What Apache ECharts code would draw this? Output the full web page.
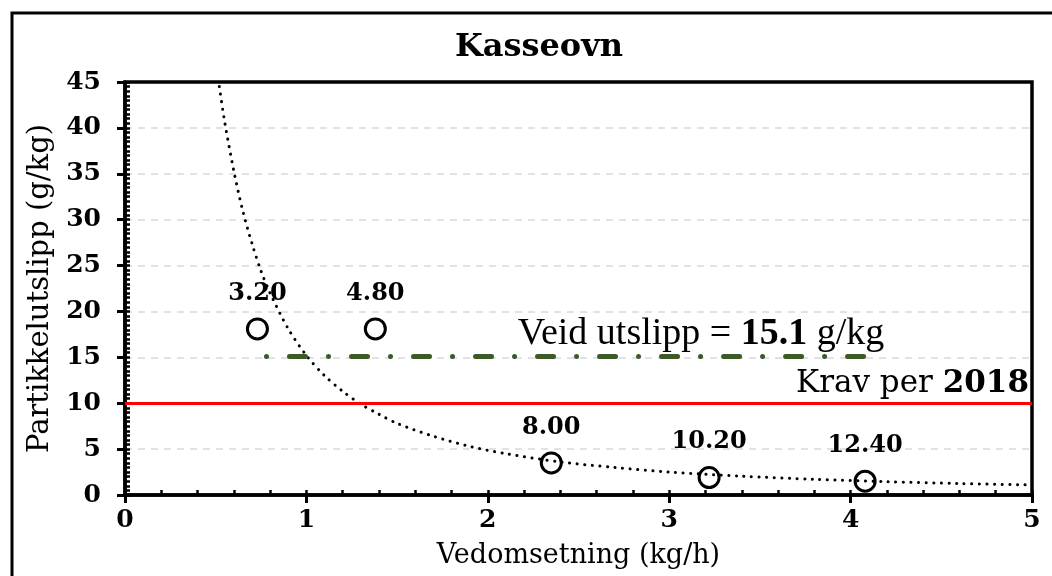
<!DOCTYPE html>
<html><head><meta charset="utf-8">
<script src="https://cdn.jsdelivr.net/npm/echarts@6/dist/echarts.min.js"></script>
<style>html,body{margin:0;padding:0;background:#fff}#c{width:1052px;height:576px}</style>
</head><body><div id="c"></div>
<script>
// ---- data ----
const titleText = 'Kasseovn';
const xName = 'Vedomsetning (kg/h)';
const yName = 'Partikkelutslipp (g/kg)';
const xMin = 0, xMax = 5, xStep = 1, xMinorStep = 0.2;
const yMin = 0, yMax = 45, yStep = 5, yMinorStep = 0.5;
const pointX = [0.73, 1.38, 2.35, 3.22, 4.08];
const pointY = [18.1, 18.1, 3.5, 1.9, 1.5];
const pointLabels = ['3.20', '4.80', '8.00', '10.20', '12.40'];
const trendX = [0.52, 0.55, 0.6, 0.65, 0.7, 0.75, 0.8, 0.9, 1.0, 1.1, 1.2, 1.3, 1.4, 1.5, 1.7, 1.9, 2.1, 2.4, 2.7, 3.0, 3.4, 3.8, 4.2, 4.6, 5.0];
const trendY = [44.5, 40.6, 35.3, 30.9, 27.4, 24.4, 22.0, 18.1, 15.2, 13.0, 11.3, 9.9, 8.8, 7.8, 6.4, 5.3, 4.5, 3.6, 3.0, 2.5, 2.05, 1.71, 1.45, 1.25, 1.09];
const limitValue = 10;
const limitText = 'Krav per ';
const limitYear = '2018';
const weightedValue = 15.1;
const weightedFrom = 0.78, weightedTo = 4.1;
const weightedPre = 'Veid utslipp = ', weightedNum = '15.1', weightedPost = ' g/kg';

// ---- chart ----
const chart = echarts.init(document.getElementById('c'), null, {renderer: 'canvas'});
const serif = 'DejaVu Serif';
const axisLineStyle = {color: '#000', width: 3.5};
const option = {
  animation: false,
  backgroundColor: '#fff',
  grid: {left: 125, right: 20, top: 82, bottom: 81, show: true, borderColor: '#000', borderWidth: 3.5, backgroundColor: 'transparent'},
  graphic: [
    {type: 'rect', shape: {x: 12, y: 13, width: 1200, height: 800}, style: {fill: 'none', stroke: '#000', lineWidth: 3}, z: 100},
    {type: 'text', x: 539, y: 48, style: {text: titleText, font: 'bold 32px "DejaVu Serif"', fill: '#000', textAlign: 'center', textVerticalAlign: 'middle'}},
    {type: 'text', x: 701, y: 334, style: {
      text: '{n|' + weightedPre + '}{b|' + weightedNum + '}{n|' + weightedPost + '}',
      textAlign: 'center', textVerticalAlign: 'middle', fill: '#000',
      rich: {n: {fontFamily: 'Liberation Serif', fontSize: 38, fill: '#000'}, b: {fontFamily: 'Liberation Serif', fontWeight: 'bold', fontSize: 38, fill: '#000'}}
    }}
  ],
  xAxis: [
    {type: 'value', position: 'bottom', min: xMin, max: xMax, interval: xStep,
     name: xName, nameLocation: 'middle', nameGap: 47,
     nameTextStyle: {fontFamily: serif, fontSize: 27, color: '#000'},
     axisLine: {show: true, onZero: false, lineStyle: axisLineStyle},
     axisTick: {show: true, inside: false, length: 8, lineStyle: {color: '#000', width: 3}},
     axisLabel: {fontFamily: serif, fontWeight: 'bold', fontSize: 25, color: '#000', margin: 13},
     splitLine: {show: false}},
    {type: 'value', position: 'bottom', min: xMin, max: xMax, interval: xMinorStep,
     axisLine: {show: false}, axisLabel: {show: false}, splitLine: {show: false},
     axisTick: {show: true, inside: true, length: 5, lineStyle: {color: '#000', width: 2.5}}}
  ],
  yAxis: [
    {type: 'value', position: 'left', min: yMin, max: yMax, interval: yStep,
     name: yName, nameLocation: 'middle', nameGap: 68,
     nameTextStyle: {fontFamily: serif, fontSize: 29, color: '#000'},
     axisLine: {show: true, onZero: false, lineStyle: axisLineStyle},
     axisTick: {show: true, inside: false, length: 8, lineStyle: {color: '#000', width: 3}},
     axisLabel: {fontFamily: serif, fontWeight: 'bold', fontSize: 25, color: '#000', margin: 24},
     splitLine: {show: true, showMinLine: false, showMaxLine: false, lineStyle: {color: '#d9d9d9', width: 1.5, type: [7, 6]}}},
    {type: 'value', position: 'left', min: yMin, max: yMax, interval: yMinorStep,
     axisLine: {show: false}, axisLabel: {show: false}, splitLine: {show: false},
     axisTick: {show: true, inside: true, length: 5, lineStyle: {color: '#000', width: 2.5}}}
  ],
  series: [
    {type: 'line', xAxisIndex: 0, yAxisIndex: 0, data: trendX.map((x, i) => [x, trendY[i]]),
     smooth: 0.3, showSymbol: false, silent: true, z: 3,
     lineStyle: {color: '#000', width: 3, type: [0.1, 7.5], cap: 'round'},
     markLine: {
       silent: true, symbol: ['none', 'none'], animation: false,
       data: [
         [{coord: [xMin, limitValue], lineStyle: {color: '#ff0000', width: 3, type: 'solid'},
           label: {show: true, position: 'insideEndTop', distance: [3, 4],
             formatter: '{n|' + limitText + '}{b|' + limitYear + '}',
             rich: {n: {fontFamily: serif, fontSize: 31, color: '#000'}, b: {fontFamily: serif, fontWeight: 'bold', fontSize: 31, color: '#000'}}}},
          {coord: [xMax, limitValue]}],
         [{coord: [weightedFrom, weightedValue], lineStyle: {color: '#3b5a26', width: 5, type: [0.01, 23, 16, 23], cap: 'round', dashOffset: 0}, label: {show: false}},
          {coord: [weightedTo, weightedValue]}]
       ]
     }},
    {type: 'scatter', xAxisIndex: 0, yAxisIndex: 0, z: 5,
     data: pointX.map((x, i) => [x, pointY[i]]),
     symbol: 'circle', symbolSize: 20,
     itemStyle: {color: 'rgba(0,0,0,0)', borderColor: '#000', borderWidth: 3, opacity: 1},
     label: {show: true, position: 'top', distance: 12,
       formatter: p => pointLabels[p.dataIndex],
       fontFamily: serif, fontWeight: 'bold', fontSize: 24, color: '#000'}}
  ]
};
chart.setOption(option);
</script>
</body></html>
